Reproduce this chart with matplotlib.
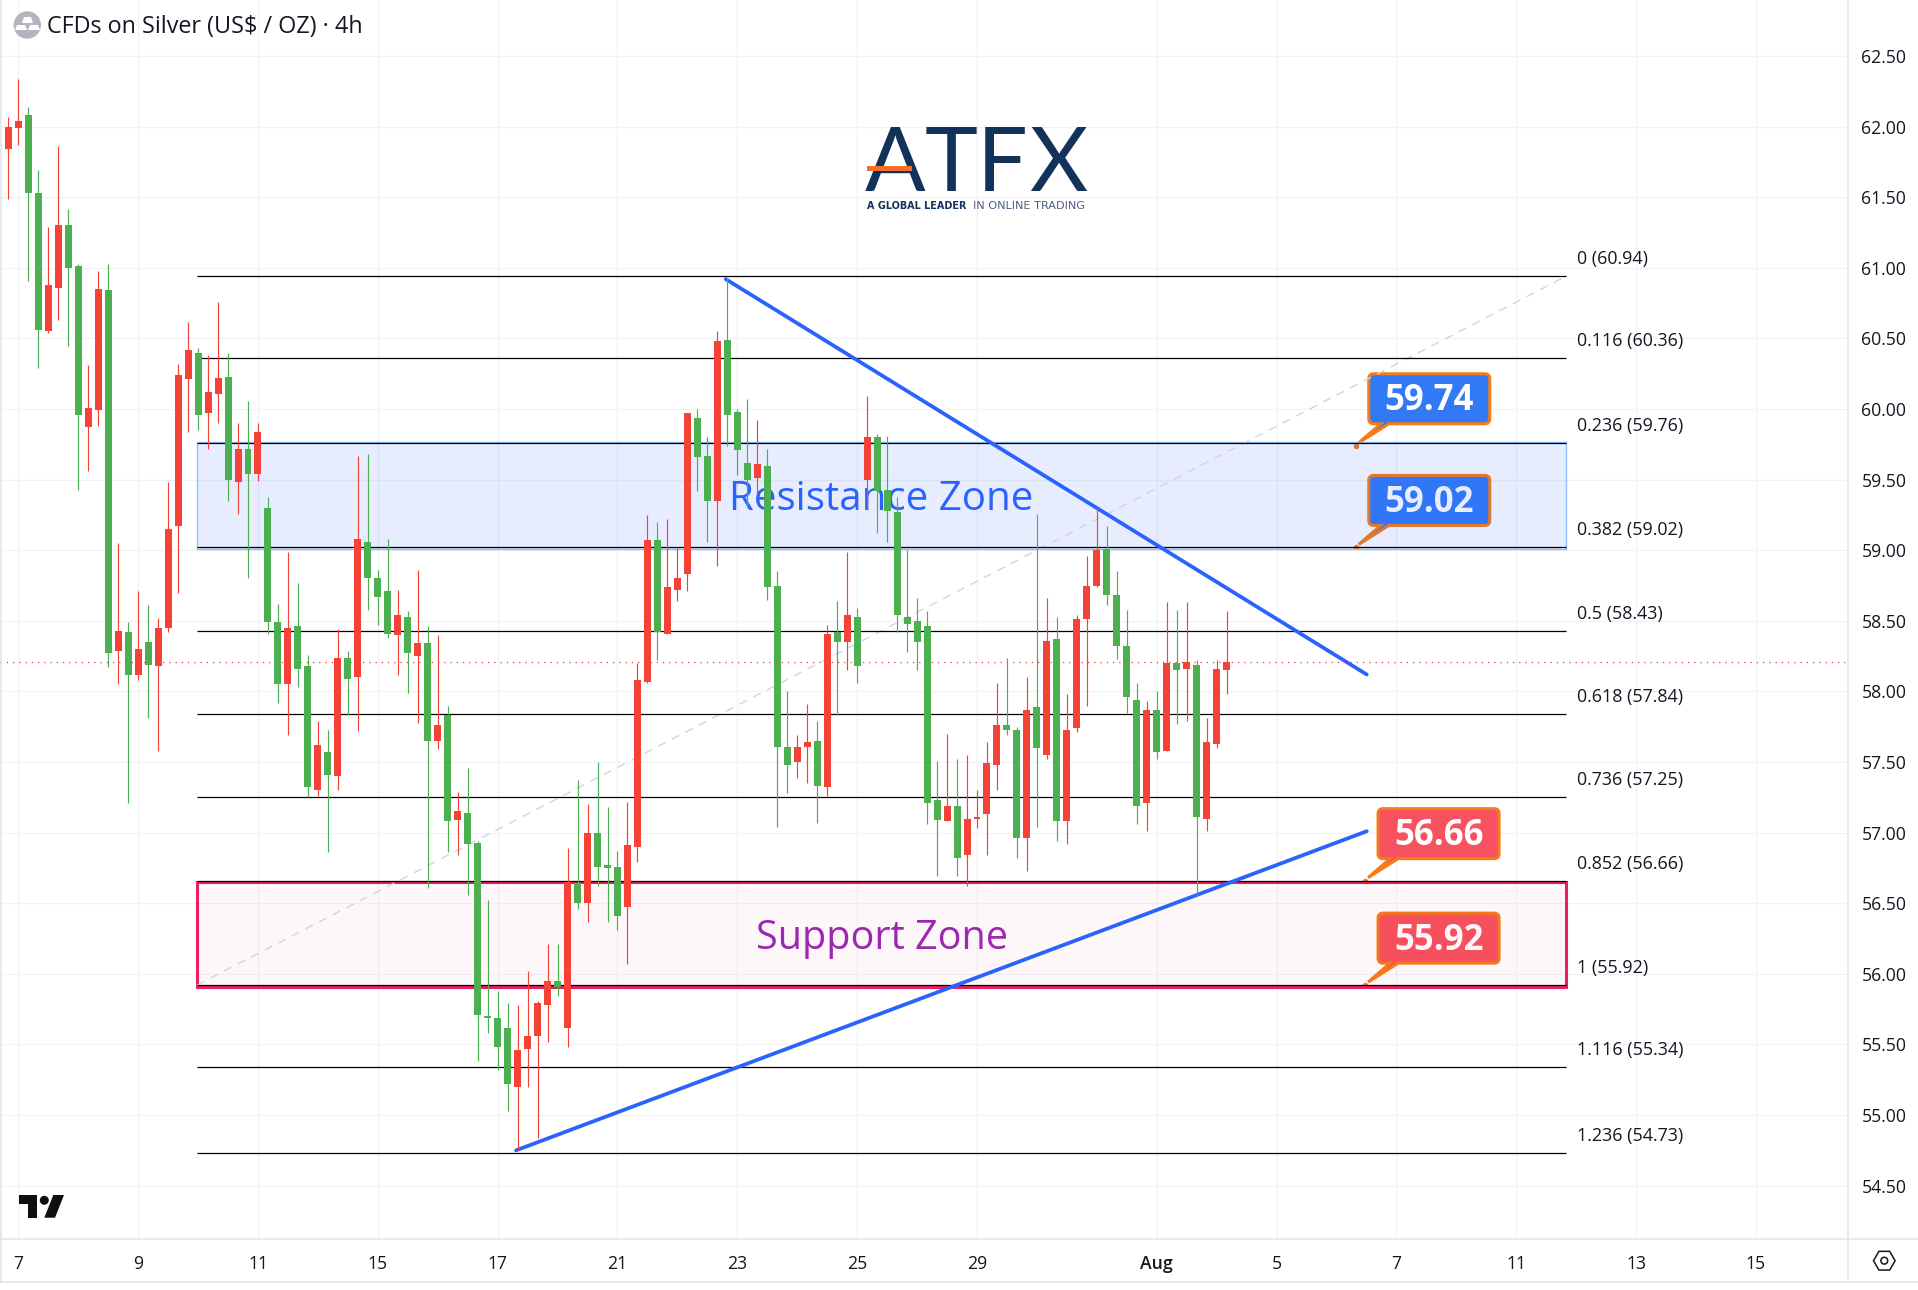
import matplotlib
matplotlib.use('Agg')
import matplotlib.pyplot as plt
from matplotlib.patches import PathPatch, Polygon, Circle, Rectangle, RegularPolygon
from matplotlib.path import Path
from matplotlib.transforms import Affine2D, IdentityTransform

plt.rcParams['font.family'] = ['Open Sans', 'DejaVu Sans']

W, H = 1918, 1290

# 4h candles, one entry per bar
opens = [61.84, 61.99, 62.08, 61.53, 60.55, 60.86, 61.30, 61.01, 59.87, 59.99,
         60.84, 58.29, 58.42, 58.12, 58.35, 58.18, 58.45, 59.17, 60.21, 60.40,
         59.97, 60.11, 60.23, 59.48, 59.72, 59.54, 59.30, 58.49, 58.05, 58.46,
         58.18, 57.30, 57.57, 57.40, 58.24, 58.10, 59.06, 58.80, 58.71, 58.40,
         58.53, 58.25, 58.34, 57.65, 57.83, 57.09, 57.14, 56.93, 55.70, 55.69,
         55.62, 55.20, 55.47, 55.56, 55.78, 55.95, 55.62, 56.64, 56.50, 57.00,
         56.77, 56.76, 56.47, 56.90, 58.07, 59.07, 58.41, 58.72, 58.83, 59.94,
         59.67, 59.35, 60.49, 59.98, 59.62, 59.51, 59.60, 58.75, 57.61, 57.50,
         57.61, 57.65, 57.32, 58.42, 58.35, 58.53, 59.50, 59.80, 59.43, 59.27,
         58.53, 58.50, 58.46, 57.23, 57.08, 57.19, 56.84, 57.10, 57.13, 57.48,
         57.76, 57.73, 56.96, 57.89, 57.55, 58.37, 57.08, 57.74, 58.51, 58.75,
         59.01, 58.68, 58.32, 57.94, 57.21, 57.87, 57.58, 58.20, 58.16, 58.19,
         57.10, 57.63, 58.15]
highs = [62.07, 62.34, 62.14, 61.69, 61.29, 61.86, 61.42, 61.03, 60.31, 60.98,
         61.03, 59.05, 58.49, 58.71, 58.61, 58.52, 59.48, 60.32, 60.62, 60.43,
         60.38, 60.76, 60.40, 59.90, 60.06, 59.90, 59.38, 58.62, 58.99, 58.77,
         58.26, 57.79, 57.73, 58.44, 58.29, 59.67, 59.68, 58.86, 59.08, 58.72,
         58.57, 58.86, 58.46, 58.40, 57.90, 57.29, 57.46, 56.94, 56.52, 55.88,
         55.79, 55.78, 56.02, 55.81, 56.21, 56.21, 56.89, 57.37, 57.20, 57.50,
         57.18, 56.87, 57.22, 58.20, 59.25, 59.20, 59.22, 59.02, 59.97, 60.00,
         59.80, 60.55, 60.93, 60.00, 60.07, 59.92, 59.72, 58.85, 58.00, 57.69,
         57.91, 57.79, 58.47, 58.64, 58.99, 58.59, 60.09, 59.82, 59.81, 59.38,
         59.00, 58.66, 58.57, 57.51, 57.70, 57.52, 57.55, 57.30, 57.64, 58.06,
         58.24, 57.75, 58.10, 59.26, 58.66, 58.53, 57.98, 58.54, 58.96, 59.31,
         59.17, 58.85, 58.58, 58.06, 57.93, 58.00, 58.63, 58.58, 58.63, 58.22,
         57.81, 58.22, 58.57]
lows = [61.49, 61.87, 60.91, 60.29, 60.54, 60.63, 60.45, 59.43, 59.56, 59.88,
        58.17, 58.05, 57.21, 58.08, 57.81, 57.58, 58.42, 58.70, 59.84, 59.85,
        59.72, 59.90, 59.35, 59.26, 58.80, 59.49, 58.41, 57.92, 57.69, 58.03,
        57.25, 57.26, 56.86, 57.30, 57.83, 57.72, 58.58, 58.47, 58.38, 58.12,
        57.99, 57.78, 56.61, 57.59, 56.86, 56.84, 56.56, 55.38, 55.58, 55.32,
        55.03, 54.75, 55.20, 54.84, 55.52, 55.84, 55.48, 56.46, 56.37, 56.62,
        56.37, 56.31, 56.07, 56.79, 58.06, 58.22, 58.41, 58.64, 58.71, 59.42,
        59.06, 58.89, 59.74, 59.53, 59.30, 59.40, 58.65, 57.04, 57.28, 57.39,
        57.35, 57.07, 57.26, 57.83, 58.15, 58.06, 59.29, 59.12, 59.06, 58.42,
        58.28, 58.15, 57.06, 56.69, 57.08, 56.69, 56.62, 57.03, 56.84, 57.30,
        57.69, 56.82, 56.73, 57.04, 57.52, 56.94, 56.92, 57.71, 57.90, 58.74,
        58.61, 58.23, 57.85, 57.06, 57.01, 57.52, 57.58, 57.77, 57.79, 56.55,
        57.01, 57.60, 57.98]
closes = [62.00, 62.04, 61.53, 60.56, 60.88, 61.30, 61.00, 59.96, 60.01, 60.85,
          58.27, 58.43, 58.12, 58.30, 58.19, 58.45, 59.15, 60.24, 60.42, 59.96,
          60.12, 60.22, 59.50, 59.72, 59.54, 59.84, 58.49, 58.05, 58.45, 58.16,
          57.32, 57.62, 57.41, 58.24, 58.09, 59.08, 58.80, 58.67, 58.41, 58.54,
          58.27, 58.34, 57.65, 57.76, 57.08, 57.15, 56.92, 55.71, 55.69, 55.48,
          55.22, 55.46, 55.56, 55.79, 55.95, 55.91, 56.65, 56.50, 57.00, 56.76,
          56.75, 56.41, 56.91, 58.08, 59.07, 58.42, 58.74, 58.80, 59.97, 59.66,
          59.35, 60.48, 59.96, 59.71, 59.50, 59.61, 58.74, 57.61, 57.48, 57.61,
          57.64, 57.33, 58.41, 58.35, 58.54, 58.18, 59.80, 59.42, 59.28, 58.54,
          58.48, 58.35, 57.21, 57.09, 57.19, 56.82, 57.10, 57.11, 57.49, 57.76,
          57.73, 56.96, 57.87, 57.60, 58.36, 57.08, 57.73, 58.51, 58.75, 59.00,
          58.68, 58.32, 57.96, 57.19, 57.87, 57.57, 58.20, 58.15, 58.21, 57.11,
          57.64, 58.16, 58.21]
last_price = 58.21

price_ticks = [54.5, 55.0, 55.5, 56.0, 56.5, 57.0, 57.5, 58.0, 58.5, 59.0, 59.5, 60.0, 60.5, 61.0, 61.5, 62.0, 62.5]
date_ticks = [1, 13, 25, 37, 49, 61, 73, 85, 97, 115, 127, 139, 151, 163, 175]
date_labels = ['7', '9', '11', '15', '17', '21', '23', '25', '29', 'Aug', '5', '7', '11', '13', '15']

fib_ratios = ['0', '0.116', '0.236', '0.382', '0.5', '0.618', '0.736', '0.852', '1', '1.116', '1.236']
fib_levels = [60.94, 60.36, 59.76, 59.02, 58.43, 57.84, 57.25, 56.66, 55.92, 55.34, 54.73]
fib_x = [18.89, 155.98]

resistance_zone = [59.01, 59.77]
support_zone = [55.91, 56.65]

down_line_x = [71.84, 136.03]
down_line_y = [60.92, 58.12]
up_line_x = [50.84, 136.03]
up_line_y = [54.75, 57.01]

callout_x = [134.93, 134.93, 135.86, 135.86]
callout_values = [59.74, 59.02, 56.66, 55.92]
callout_fill = ['#3179F5', '#3179F5', '#F7525F', '#F7525F']

GREEN = '#4CAF50'
RED = '#F44336'
ORANGE = '#F57C17'
NAVY = '#12325A'
DARK = '#131722'
BORDER = '#E0E3EB'
GRID = '#F0F2F6'

fig = plt.figure(figsize=(W / 100, H / 100), dpi=100, facecolor='white')
AX_R = 1848.3
AX_B = 1239.3
ax = fig.add_axes([0, 1 - AX_B / H, AX_R / W, AX_B / H])
ax.set_xlim(-0.834, 184.25)
ax.set_ylim(54.12, 62.897)
for s in ax.spines.values():
    s.set_visible(False)

ax.yaxis.tick_right()
ax.set_yticks(price_ticks)
ax.set_yticklabels(['%.2f' % p for p in price_ticks], fontsize=12.7, color=DARK)
ax.set_xticks(date_ticks)
ax.set_xticklabels(date_labels, fontsize=12.7, color=DARK)
ax.tick_params(axis='both', length=0)
ax.tick_params(axis='y', pad=9.5)
ax.tick_params(axis='x', pad=11.5)
ax.get_xticklabels()[date_labels.index('Aug')].set_fontweight('semibold')
ax.grid(True, color=GRID, lw=0.9, zorder=0.5)
ax.set_axisbelow(True)

# top-down pixel coordinates for furniture
px = Affine2D().scale(1, -1).translate(0, H)


def callout_path(tx, ty, top, bottom, r=5):
    # tx, ty is the anchor in display pixels, y going up
    l, rt = tx + 13, tx + 134
    t, b = ty + top, ty + bottom
    v = [(l + r, t), (rt - r, t), (rt, t), (rt, t - r), (rt, b + r), (rt, b), (rt - r, b),
         (tx + 33, b), (tx + 3, ty + 3), (tx + 25, b), (l + r, b), (l, b), (l, b + r),
         (l, t - r), (l, t), (l + r, t), (l + r, t)]
    c = [Path.MOVETO, Path.LINETO, Path.CURVE3, Path.CURVE3, Path.LINETO, Path.CURVE3, Path.CURVE3,
         Path.LINETO, Path.LINETO, Path.LINETO, Path.LINETO, Path.CURVE3, Path.CURVE3,
         Path.LINETO, Path.CURVE3, Path.CURVE3, Path.CLOSEPOLY]
    return Path(v, c)


for x, val, col in zip(callout_x, callout_values, callout_fill):
    tx, ty = ax.transData.transform((x, val))
    ax.add_artist(PathPatch(callout_path(tx, ty, 72, 22), facecolor=col, edgecolor=ORANGE, lw=2.2,
                            transform=IdentityTransform(), zorder=1.5, clip_on=False))
    ax.plot([x], [val], marker='o', ms=4.5, color=ORANGE, mec='white', mew=0.5, zorder=1.7)
    ax.annotate('%.2f' % val, xy=(x, val), xytext=(73.5 * 0.72, 44.5 * 0.72), textcoords='offset points',
                ha='center', va='center', color='white', fontsize=25, fontweight='bold', zorder=1.8)

# zones
ax.add_patch(Rectangle((fib_x[0], resistance_zone[0]), fib_x[1] - fib_x[0], resistance_zone[1] - resistance_zone[0],
                       facecolor='#2962FF', alpha=0.11, edgecolor='none', zorder=2))
ax.add_patch(Rectangle((fib_x[0], resistance_zone[0]), fib_x[1] - fib_x[0], resistance_zone[1] - resistance_zone[0],
                       facecolor='none', edgecolor='#90BFF9', lw=1, zorder=2.1))
ax.add_patch(Rectangle((fib_x[0], support_zone[0]), fib_x[1] - fib_x[0], support_zone[1] - support_zone[0],
                       facecolor='#E91E63', alpha=0.03, edgecolor='none', zorder=2))
ax.add_patch(Rectangle((fib_x[0], support_zone[0]), fib_x[1] - fib_x[0], support_zone[1] - support_zone[0],
                       facecolor='none', edgecolor='#E91E63', lw=2.2, zorder=2.1))

# fib levels
ax.plot(fib_x, [fib_levels[8], fib_levels[0]], color='#D1D4DC', lw=1, ls=(0, (6, 5)), zorder=2.4)
ax.hlines(fib_levels, fib_x[0], fib_x[1], color='black', lw=0.9, zorder=2.5)
for ratio, level in zip(fib_ratios, fib_levels):
    ax.annotate('%s (%.2f)' % (ratio, level), xy=(fib_x[1], level), xytext=(7.6, 12.2), textcoords='offset points',
                ha='left', va='center', fontsize=12.9, color=DARK, zorder=2.6)

ax.text(87.4, 59.36, 'Resistance Zone', ha='center', va='center', fontsize=29, color='#2962FF', zorder=3)
ax.text(87.5, 56.25, 'Support Zone', ha='center', va='center', fontsize=28.5, color='#9C27B0', zorder=3)

ax.plot(down_line_x, down_line_y, color='#2962FF', lw=2.7, solid_capstyle='round', zorder=3.5)
ax.plot(up_line_x, up_line_y, color='#2962FF', lw=2.7, solid_capstyle='round', zorder=3.5)

ax.axhline(last_price, color='#F23645', lw=0.9, ls=(0, (1, 4)), zorder=3.6)

# candles, red closes up on this chart
bars = range(len(opens))
colors = [RED if c >= o else GREEN for o, c in zip(opens, closes)]
ax.vlines(bars, lows, highs, colors=colors, lw=0.85, zorder=4)
ax.bar(bars, [abs(c - o) for o, c in zip(opens, closes)], bottom=[min(o, c) for o, c in zip(opens, closes)],
       width=0.7, color=colors, linewidth=0, zorder=4.1)

# panel borders
for seg in [((AX_R, 0), (AX_R, 1281.7)), ((0, AX_B), (W, AX_B)), ((0, 1281.7), (W, 1281.7)), ((0.7, 0), (0.7, 1281.7))]:
    fig.add_artist(plt.Line2D([seg[0][0], seg[1][0]], [seg[0][1], seg[1][1]], color=BORDER, lw=1.1, transform=px))

# header
fig.add_artist(Circle((27.3, 25), 13.7, facecolor='#B2B5BE', edgecolor='none', transform=px))
fig.add_artist(Polygon([(24, 17), (31, 17), (33, 23), (22, 23)], facecolor='white', edgecolor='none', transform=px))
fig.add_artist(Polygon([(17, 25), (25, 25), (27, 30), (15, 30)], facecolor='white', edgecolor='none', transform=px))
fig.add_artist(Polygon([(30, 25), (38, 25), (40, 30), (28, 30)], facecolor='white', edgecolor='none', transform=px))
fig.text(46.7 / W, 1 - 27 / H, 'CFDs on Silver (US$ / OZ) \u00b7 4h', ha='left', va='center', fontsize=16.8, color=DARK)

# ATFX logo
for letter, lx in zip('ATFX', [895, 951, 1002, 1058]):
    fig.text(lx / W, 1 - 191 / H, letter, ha='center', va='baseline', fontsize=64.5, color=NAVY,
             family=['Lato', 'DejaVu Sans'])
fig.add_artist(Rectangle((867, 165.5), 45, 5, facecolor='#F36F2A', edgecolor='none', transform=px, zorder=4))
fig.text(867 / W, 1 - 209 / H, 'A GLOBAL LEADER', ha='left', va='baseline', fontsize=6.9, color=NAVY,
         fontweight='bold', family=['DejaVu Sans'])
fig.text(973 / W, 1 - 209 / H, 'IN ONLINE TRADING', ha='left', va='baseline', fontsize=8.1, color='#4A6080',
         family=['DejaVu Sans'])

# TradingView mark
fig.add_artist(Polygon([(19, 1195), (37.3, 1195), (37.3, 1217.7), (27.7, 1217.7), (27.7, 1204.3), (19, 1204.3)],
                       facecolor='#0F0F0F', edgecolor='none', transform=px))
fig.add_artist(Circle((44.3, 1200.3), 4.5, facecolor='#0F0F0F', edgecolor='none', transform=px))
fig.add_artist(Polygon([(53.3, 1195), (64, 1195), (55, 1217.7), (44.3, 1217.7)], facecolor='#0F0F0F',
                       edgecolor='none', transform=px))

# settings button
fig.add_artist(RegularPolygon((1884.3, 1260.7), 6, radius=10.8, orientation=0.5236, facecolor='none', edgecolor=DARK,
                              lw=1.1, transform=px))
fig.add_artist(Circle((1884.3, 1260.7), 3.4, facecolor='none', edgecolor=DARK, lw=1.1, transform=px))

fig.savefig('out.png', dpi=100)
